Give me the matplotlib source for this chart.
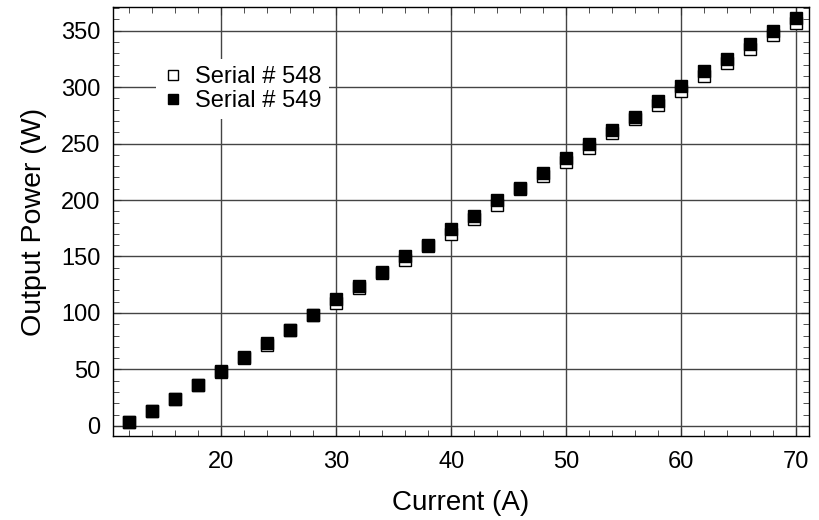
import matplotlib.pyplot as plt
from matplotlib.ticker import MultipleLocator

plt.rcParams['font.family'] = ['Liberation Sans', 'DejaVu Sans']

current = [12, 14, 16, 18, 20, 22, 24, 26, 28, 30, 32, 34, 36, 38, 40,
           42, 44, 46, 48, 50, 52, 54, 56, 58, 60, 62, 64, 66, 68, 70]
power_548 = [3, 13, 24, 36, 48, 60, 72, 85, 98, 109, 122, 135, 147, 159, 170,
             183, 196, 210, 221, 234, 246, 259, 272, 284, 297, 310, 321, 334, 346, 357]
power_549 = [3, 13, 24, 36, 49, 61, 73, 85, 98, 112, 124, 136, 150, 160, 174,
             186, 200, 211, 224, 237, 250, 262, 274, 288, 301, 314, 325, 338, 350, 361]

fig = plt.figure(figsize=(8.2, 5.2), dpi=100)
ax = fig.add_axes([113/820, 1 - 436/520, (809-113)/820, (436-7)/520])

ax.plot(current, power_548, 's', ms=8.8, mfc='white', mec='black', mew=1.0,
        label='Serial # 548', zorder=3)
ax.plot(current, power_549, 's', ms=8.8, mfc='black', mec='black', mew=1.0,
        label='Serial # 549', zorder=4)

ax.set_xlim(10.6, 71.1)
ax.set_ylim(-9, 371)
ax.xaxis.set_major_locator(MultipleLocator(10))
ax.xaxis.set_minor_locator(MultipleLocator(2))
ax.yaxis.set_major_locator(MultipleLocator(50))
ax.yaxis.set_minor_locator(MultipleLocator(10))
ax.tick_params(which='both', direction='in', top=True, right=True, labelsize=17, color='#333333')
ax.tick_params(which='major', length=6)
ax.tick_params(which='minor', length=4)
ax.tick_params(axis='x', pad=11)
ax.tick_params(axis='y', pad=9)
ax.grid(True, which='major', color='#444444', linewidth=1.0)
ax.set_axisbelow(True)
for s in ax.spines.values():
    s.set_linewidth(1.0)

ax.set_xlabel('Current (A)', fontsize=20, labelpad=12)
ax.set_ylabel('Output Power (W)', fontsize=20.5, labelpad=10)

leg = ax.legend(loc='center', bbox_to_anchor=(0.186, 0.808), frameon=True,
                fontsize=17, handletextpad=0.55, borderpad=0.3, labelspacing=0.08,
                markerscale=0.85, handlelength=0.8, fancybox=False)
leg.get_frame().set_edgecolor('none')
leg.get_frame().set_facecolor('white')
leg.get_frame().set_alpha(1.0)

fig.savefig('out.png', dpi=100)
